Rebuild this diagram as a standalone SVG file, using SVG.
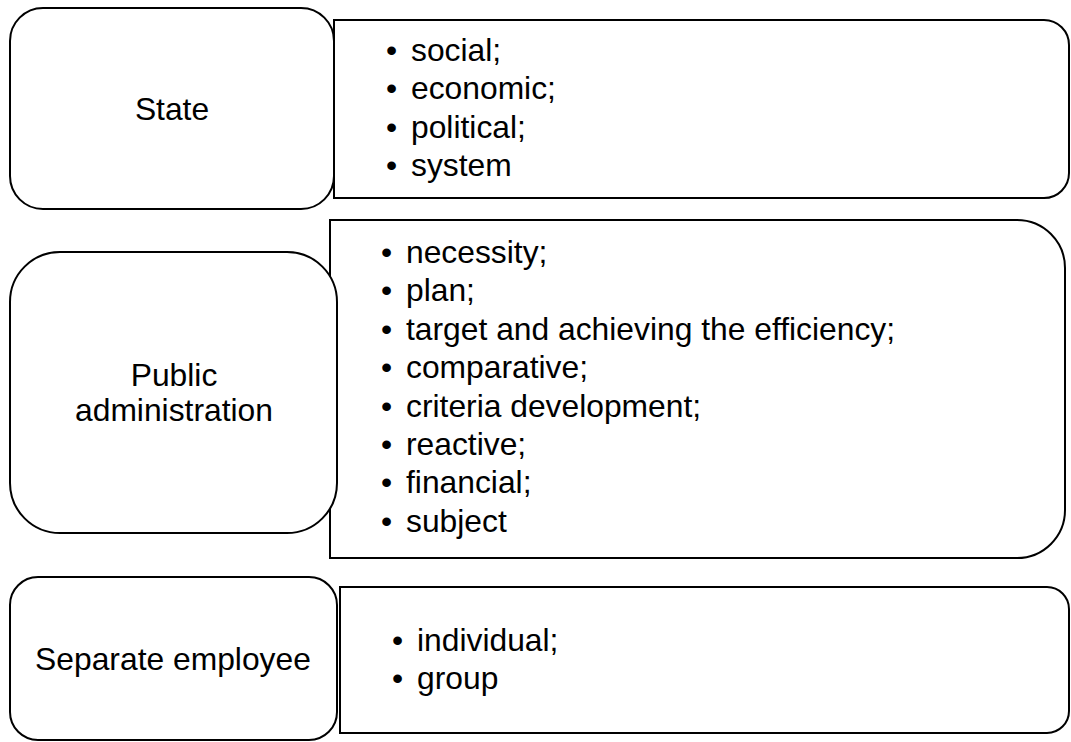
<svg xmlns="http://www.w3.org/2000/svg" width="1071" height="742" viewBox="0 0 1071 742">
<style>
.box{fill:#fff;stroke:#000;stroke-width:2}
text{font-family:"Liberation Sans",Arial,sans-serif;font-size:31.8px;fill:#000}
.c{text-anchor:middle}
</style>
<rect width="1071" height="742" fill="#fff"/>
<g id="connectors"/>
<g id="state-list">
<path class="box" d="M334,20 H1044 A25,25 0 0 1 1069,45 V173 A25,25 0 0 1 1044,198 H334 Z"/>
<text x="386" y="61">•</text><text x="411" y="61">social;</text>
<text x="386" y="99.4">•</text><text x="411" y="99.4">economic;</text>
<text x="386" y="137.8">•</text><text x="411" y="137.8">political;</text>
<text x="386" y="176.2">•</text><text x="411" y="176.2">system</text>
</g>
<g id="pa-list">
<path class="box" d="M330,220 H1017 A48,48 0 0 1 1065,268 V510 A48,48 0 0 1 1017,558 H330 Z"/>
<text x="381" y="263">•</text><text x="406" y="263">necessity;</text>
<text x="381" y="301.4">•</text><text x="406" y="301.4">plan;</text>
<text x="381" y="339.8">•</text><text x="406" y="339.8">target and achieving the efficiency;</text>
<text x="381" y="378.2">•</text><text x="406" y="378.2">comparative;</text>
<text x="381" y="416.6">•</text><text x="406" y="416.6">criteria development;</text>
<text x="381" y="455">•</text><text x="406" y="455">reactive;</text>
<text x="381" y="493.4">•</text><text x="406" y="493.4">financial;</text>
<text x="381" y="531.8">•</text><text x="406" y="531.8">subject</text>
</g>
<g id="employee-list">
<path class="box" d="M340,587 H1047 A22,22 0 0 1 1069,609 V711 A22,22 0 0 1 1047,733 H340 Z"/>
<text x="392" y="651">•</text><text x="417" y="651">individual;</text>
<text x="392" y="689">•</text><text x="417" y="689">group</text>
</g>
<g id="state">
<rect class="box" x="10" y="8" width="324" height="201" rx="33"/>
<text class="c" x="172" y="120">State</text>
</g>
<g id="public-administration">
<rect class="box" x="10" y="252" width="327" height="281" rx="50"/>
<text class="c" x="174" y="386">Public</text>
<text class="c" x="174" y="421">administration</text>
</g>
<g id="separate-employee">
<rect class="box" x="10" y="577" width="327" height="163" rx="28"/>
<text class="c" x="173" y="670">Separate employee</text>
</g>
</svg>
